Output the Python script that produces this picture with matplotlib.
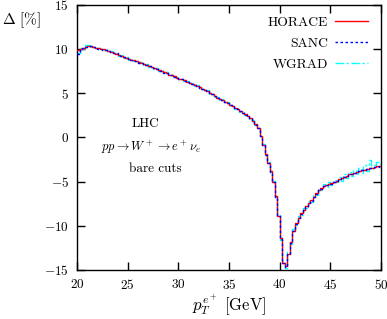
import matplotlib
matplotlib.use('Agg')
import matplotlib.pyplot as plt
import numpy as np

plt.rcParams['font.family'] = ['cmr10']
plt.rcParams['mathtext.fontset'] = 'cm'
plt.rcParams['axes.formatter.use_mathtext'] = True

# bin edges in pT (GeV), 0.25 GeV bins
edges = np.arange(20, 50.001, 0.25)

horace = [9.9, 10.05, 10.1, 10.2, 10.3, 10.3, 10.25, 10.15, 10.1, 10.0,
          9.95, 9.9, 9.8, 9.7, 9.6, 9.45, 9.35, 9.25, 9.1, 9.0,
          8.9, 8.8, 8.7, 8.6, 8.5, 8.4, 8.3, 8.2, 8.1, 7.95,
          7.85, 7.7, 7.6, 7.5, 7.35, 7.25, 7.1, 7.0, 6.9, 6.75,
          6.65, 6.55, 6.45, 6.3, 6.2, 6.05, 5.95, 5.8, 5.65, 5.5,
          5.35, 5.2, 5.0, 4.85, 4.7, 4.5, 4.35, 4.2, 4.05, 3.85,
          3.7, 3.55, 3.35, 3.15, 3.0, 2.8, 2.6, 2.4, 2.2, 1.9,
          1.5, 1.0, 0.2, -0.9, -1.9, -2.9, -3.8, -5.0, -6.6, -8.9,
          -11.4, -14.2, -14.6, -13.2, -11.9, -10.6, -9.7, -9.1, -8.6, -8.2,
          -7.8, -7.4, -7.1, -6.7, -6.3, -6.0, -5.75, -5.55, -5.4, -5.3,
          -5.2, -5.05, -4.9, -4.75, -4.6, -4.45, -4.35, -4.2, -4.1, -4.0,
          -3.9, -3.8, -3.7, -3.65, -3.6, -3.5, -3.45, -3.35, -3.3, -3.2]

sanc = [9.4, 10.0, 10.15, 10.2, 10.25, 10.35, 10.2, 10.2, 10.05, 10.0,
        9.9, 9.9, 9.75, 9.7, 9.55, 9.5, 9.3, 9.25, 9.05, 9.0,
        8.85, 8.8, 8.65, 8.6, 8.45, 8.4, 8.25, 8.2, 8.05, 7.95,
        7.8, 7.7, 7.55, 7.5, 7.3, 7.25, 7.05, 7.0, 6.85, 6.75,
        6.6, 6.55, 6.4, 6.3, 6.15, 6.05, 5.9, 5.8, 5.6, 5.5,
        5.3, 5.2, 4.95, 4.85, 4.65, 4.5, 4.3, 4.2, 4.0, 3.85,
        3.65, 3.55, 3.3, 3.15, 2.95, 2.8, 2.55, 2.4, 2.15, 1.9,
        1.45, 1.0, 0.1, -0.9, -2.0, -2.9, -3.9, -5.0, -6.7, -8.9,
        -11.5, -14.2, -14.7, -13.2, -12.0, -10.6, -9.8, -9.1, -8.7, -8.2,
        -7.9, -7.4, -7.2, -6.7, -6.4, -6.0, -5.8, -5.55, -5.45, -5.3,
        -5.25, -5.05, -4.95, -4.75, -4.65, -4.45, -4.4, -4.2, -4.15, -4.0,
        -3.95, -3.8, -3.75, -3.65, -3.6, -3.5, -3.5, -3.35, -3.35, -3.2]

wgrad = [9.6, 10.1, 10.0, 10.4, 10.5, 10.2, 10.3, 10.1, 10.15, 9.95,
         9.9, 9.95, 9.75, 9.75, 9.5, 9.5, 9.25, 9.3, 9.0, 9.05,
         8.8, 8.85, 8.6, 8.65, 8.4, 8.5, 8.2, 8.3, 8.0, 8.0,
         7.75, 7.8, 7.5, 7.6, 7.25, 7.35, 7.0, 7.1, 6.8, 6.85,
         6.55, 6.65, 6.35, 6.4, 6.1, 6.15, 5.85, 5.9, 5.55, 5.6,
         5.25, 5.3, 4.9, 4.95, 4.6, 4.6, 4.25, 4.3, 3.95, 3.95,
         3.6, 3.65, 3.25, 3.25, 2.9, 2.9, 2.5, 2.45, 2.1, 1.95,
         1.4, 1.05, 0.0, -0.8, -2.0, -2.8, -3.9, -4.9, -6.7, -8.7,
         -11.6, -14.0, -14.8, -13.0, -12.1, -10.4, -9.9, -8.9, -8.8, -8.0,
         -8.0, -7.2, -7.3, -6.5, -6.5, -5.8, -6.0, -5.3, -5.6, -5.1,
         -5.4, -4.8, -5.1, -4.5, -4.9, -4.2, -4.6, -3.9, -4.4, -3.7,
         -4.2, -3.5, -4.0, -3.1, -3.8, -2.6, -3.5, -3.1, -2.8, -3.0]

fig = plt.figure(figsize=(3.87, 3.19), dpi=100)
ax = fig.add_axes([0.199, 0.154, 0.786, 0.831])

ax.step(edges, np.append(horace, horace[-1]), where='post', color='#ff0000',
        lw=1.0, label='HORACE', zorder=3)
ax.step(edges, np.append(sanc, sanc[-1]), where='post', color='#0000ff',
        lw=1.0, ls=(0, (1.8, 1.8)), label='SANC', zorder=4)
ax.step(edges, np.append(wgrad, wgrad[-1]), where='post', color='#00ffff',
        lw=1.0, ls=(0, (6, 2, 1.5, 2)), label='WGRAD', zorder=2)

ax.set_xlim(20, 50)
ax.set_ylim(-15, 15)
ax.set_xticks(np.arange(20, 51, 5))
ax.set_yticks(np.arange(-15, 16, 5))
ax.tick_params(direction='in', length=5.5, width=1.0, top=True, right=True,
               labelsize=9.5, pad=6)
for sp in ax.spines.values():
    sp.set_linewidth(1.0)

fig.text(0.592, 0.044, r'$p_T^{e^+}\ [\mathrm{GeV}]$', fontsize=12,
         ha='center', va='center')
fig.text(0.005, 0.937, r'$\Delta\ [\%]$', fontsize=11, va='center', ha='left')

ax.text(26.7, 1.5, 'LHC', fontsize=9.5, ha='center', va='center')
ax.text(27.3, -1.1, r'$pp \rightarrow W^+ \rightarrow e^+\nu_e$', fontsize=9,
        ha='center', va='center')
ax.text(27.7, -3.55, 'bare cuts', fontsize=9.5, ha='center', va='center')

ax.legend(loc='upper right', bbox_to_anchor=(0.955, 0.955), frameon=False,
          markerfirst=False, fontsize=9.8, handlelength=2.4, handletextpad=0.5,
          labelspacing=0.62, borderpad=0, borderaxespad=0)

fig.savefig('out.png', dpi=100)
